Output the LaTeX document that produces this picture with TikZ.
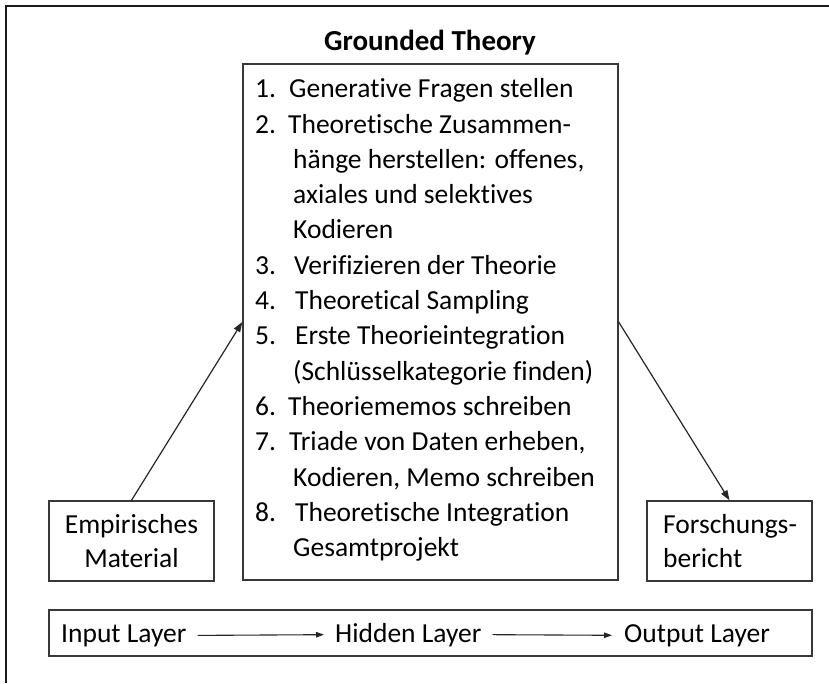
\documentclass[tikz,border=0pt]{standalone}
\usepackage{fontspec}
\setmainfont{Carlito}[Ligatures={NoCommon}]
\usetikzlibrary{arrows.meta}
\begin{document}
\begin{tikzpicture}[x=1pt,y=-1pt,
  every node/.style={font=\fontsize{27.5}{34}\selectfont},
  boxnode/.style={draw=black!78,line width=1.4pt,inner sep=0pt},
  txt/.style={inner sep=0pt,anchor=base west},
  conn/.style={draw=black!85,line width=1.2pt,-{Triangle[length=10pt,width=7pt]}},
  small/.style={draw=black!85,line width=1.1pt,-{Triangle[length=8pt,width=5.5pt]}}
]
\useasboundingbox (0,0) rectangle (829,683);
% outer frame (top and left visible)
\draw[line width=2.6pt,black!90] (829,6) -- (6,6) -- (6,683);

% title
\node[inner sep=0pt,anchor=base,font=\fontsize{29}{34}\selectfont\bfseries] (title) at (430,50) {Grounded Theory};

% main box
\node[boxnode,minimum width=375pt,minimum height=516pt] (main) at (430.5,322) {};

% list
\node[txt] (n1) at (255,97.7) {1.};
\node[txt] (t1) at (289,97.7) {Generative Fragen stellen};
\node[txt] (n2) at (255,133) {2.};
\node[txt] (t2) at (288,133) {Theoretische Zusammen-};
\node[txt] (t2b) at (293,168.3) {hänge herstellen: offenes,};
\node[txt] (t2c) at (293,203.6) {axiales und selektives};
\node[txt] (t2d) at (293,238.9) {Kodieren};
\node[txt] (n3) at (255,274.2) {3.};
\node[txt] (t3) at (294,274.2) {Verifizieren der Theorie};
\node[txt] (n4) at (255,309.5) {4.};
\node[txt] (t4) at (295,309.5) {Theoretical Sampling};
\node[txt] (n5) at (255,344.8) {5.};
\node[txt] (t5) at (295,344.8) {Erste Theorieintegration};
\node[txt] (t5b) at (293,380.1) {(Schlüsselkategorie finden)};
\node[txt] (n6) at (255,415.4) {6.};
\node[txt] (t6) at (288,415.4) {Theoriememos schreiben};
\node[txt] (n7) at (255,450.7) {7.};
\node[txt] (t7) at (289,450.7) {Triade von Daten erheben,};
\node[txt] (t7b) at (293,486) {Kodieren, Memo schreiben};
\node[txt] (n8) at (255,521.3) {8.};
\node[txt] (t8) at (295,521.3) {Theoretische Integration};
\node[txt] (t8b) at (293,556.6) {Gesamtprojekt};

% side boxes
\node[boxnode,minimum width=165pt,minimum height=80pt] (emp) at (131.5,541) {};
\node[txt,anchor=base] (emp1) at (131.5,533) {Empirisches};
\node[txt,anchor=base] (emp2) at (131.5,567) {Material};

\node[boxnode,minimum width=165pt,minimum height=80pt] (fb) at (729.5,541) {};
\node[txt] (fb1) at (663,533) {Forschungs-};
\node[txt] (fb2) at (663,567) {bericht};

% connectors
\draw[conn] (emp.north) -- (main.west);
\draw[conn] (main.east) -- (fb.north);

% layer box
\node[boxnode,minimum width=763pt,minimum height=46pt] (layers) at (430.5,633) {};
\node[txt,inner xsep=11pt] (inl) at (50,642) {Input Layer};
\node[txt,inner xsep=11pt] (hid) at (324,642) {Hidden Layer};
\node[txt,inner xsep=12pt] (outl) at (612,642) {Output Layer};
\draw[small] (inl.east) -- (hid.west);
\draw[small] (hid.east) -- (outl.west);
\end{tikzpicture}
\end{document}
